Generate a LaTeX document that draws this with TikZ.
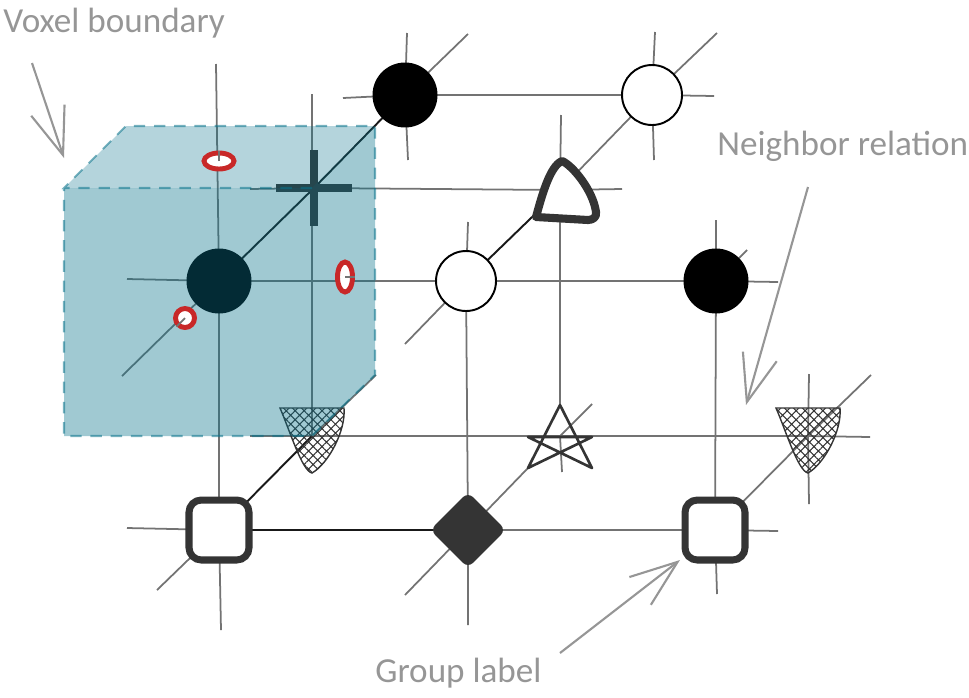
\documentclass[tikz,border=0pt]{standalone}
\usepackage{fontspec}
\setmainfont{Carlito}
\usetikzlibrary{arrows.meta,shapes,patterns.meta,backgrounds}
\definecolor{vxTeal}{RGB}{8,114,138}
\definecolor{vxInk}{RGB}{52,52,52}
\definecolor{vxNote}{RGB}{150,150,150}
\definecolor{vxRed}{RGB}{200,40,40}

\begin{document}
\begin{tikzpicture}[
  x=0.02cm, y=-0.02cm,
  sitedot/.style={circle, fill=black, minimum size=1.3cm, inner sep=0pt},
  siteopen/.style={circle, draw=black, line width=1.1pt, fill=white, minimum size=1.2cm, inner sep=0pt},
  sitesquare/.style={rectangle, draw=vxInk, line width=4pt, fill=white, rounded corners=7pt, minimum size=1.2cm, inner sep=0pt},
  sitediamond/.style={diamond, fill=vxInk, rounded corners=4pt, minimum size=1.52cm, inner sep=0pt},
  siteplus/.style={cross out, draw=vxInk, line width=4.5pt, minimum size=0.92cm, inner sep=0pt, rotate=45},
  siteblank/.style={circle, minimum size=1.2cm, inner sep=0pt},
  ringmark/.style={ellipse, draw=vxRed, line width=2.8pt, fill=white, inner sep=0pt},
  link/.style={draw=black!55, line width=1pt},
  linkdark/.style={draw=black!90, line width=1.1pt},
  notearr/.style={draw=vxNote, line width=1.2pt, -{Straight Barb[length=27pt, width=20pt]}},
  notetxt/.style={text=vxNote, font=\fontsize{20}{24}\selectfont, anchor=base west, inner sep=0pt},
  cubeedge/.style={draw=vxTeal, draw opacity=.55, line width=1.2pt, dash pattern=on 6.5pt off 5pt},
  hatchtri/.pic={
    \draw[draw=vxInk, line width=0.8pt, pattern={Hatch[angle=45, distance=3.6pt, line width=0.6pt]}, pattern color=vxInk]
      (-32,-28) -- (32,-28) .. controls (34,-5) and (16,28) .. (0,37)
      .. controls (-10,35) and (-22,-5) .. (-32,-28) -- cycle;
  },
  opentri/.pic={
    \draw[draw=vxInk, line width=4.6pt, fill=white, line join=round]
      (2,-29) .. controls (12,-25) and (33,0) .. (36,22) .. controls (37,27) and (33,30) .. (28,30)
      -- (-24,27) .. controls (-18,5) and (-10,-24) .. (2,-29) -- cycle;
  },
  openstar/.pic={
    \draw[draw=vxInk, line width=1.5pt, line join=round]
      (0,-31) -- (32,32) -- (-32,1) -- (32,1) -- (-32,32) -- cycle;
  },
]
\useasboundingbox (0,0) rectangle (969,697);
% sites, back row on top
\node[sitedot] (topBlack) at (405,95) {};
\node[siteopen] (topWhite) at (652,95) {};
% sites, back row in the middle
\node[siteplus] (backPlus) at (314,188) {};
\node[siteblank] (backTri) at (560,190) {};
\pic at (backTri) {opentri};
% sites, front row in the middle
\node[sitedot] (midDark) at (219,281) {};
\node[siteopen] (midWhite) at (466,281) {};
\node[sitedot] (midBlack) at (716,281) {};
% sites, back row below
\node[siteblank] (lowHatchA) at (312,436) {};
\pic at (lowHatchA) {hatchtri};
\node[siteblank] (lowStar) at (560,436) {};
\pic at (lowStar) {openstar};
\node[siteblank] (lowHatchB) at (808,436) {};
\pic at (lowHatchB) {hatchtri};
% sites, front row below
\node[sitesquare] (botSqA) at (219,530) {};
\node[sitediamond] (botDiam) at (468,530) {};
\node[sitesquare] (botSqB) at (715,530) {};
% free ends
\coordinate (topBlackW) at (343,98);
\coordinate (topBlackN) at (407,33);
\coordinate (topBlackS) at (408,160);
\coordinate (topBlackNE) at (468,34);
\coordinate (topWhiteE) at (714,96);
\coordinate (topWhiteN) at (655,32);
\coordinate (topWhiteS) at (654,160);
\coordinate (topWhiteNE) at (717,33);
\coordinate (backPlusW) at (250,189);
\coordinate (backPlusN) at (312,94);
\coordinate (backTriE) at (622,189);
\coordinate (backTriN) at (561,115);
\coordinate (midDarkW) at (127,279);
\coordinate (midDarkN) at (216,64);
\coordinate (midDarkSW) at (122,376);
\coordinate (midWhiteSW) at (405,344);
\coordinate (midWhiteN) at (468,222);
\coordinate (midBlackE) at (778,282);
\coordinate (midBlackN) at (716,220);
\coordinate (midBlackNE) at (747,250);
\coordinate (lowHatchAW) at (250,436);
\coordinate (lowHatchANE) at (376,375);
\coordinate (lowStarNE) at (592,404);
\coordinate (lowStarS) at (562,472);
\coordinate (lowStarSW) at (528,468);
\coordinate (lowHatchBE) at (870,437);
\coordinate (lowHatchBN) at (809,374);
\coordinate (lowHatchBS) at (809,504);
\coordinate (lowHatchBNE) at (871,375);
\coordinate (botSqAW) at (127,528);
\coordinate (botSqAS) at (221,630);
\coordinate (botSqASW) at (157,590);
\coordinate (botDiamS) at (468,625);
\coordinate (botDiamSW) at (405,595);
\coordinate (botSqBE) at (778,531);
\coordinate (botSqBS) at (717,594);
% lattice lines
\begin{scope}[on background layer]
\draw[link] (topBlackW) -- (topBlack.center) -- (topWhite.center) -- (topWhiteE);
\draw[link] (topBlackN) -- (topBlack.center) -- (topBlackS);
\draw[link] (topWhiteN) -- (topWhite.center) -- (topWhiteS);
\draw[link] (topBlackNE) -- (topBlack.center);
\draw[linkdark] (topBlack.center) -- (backPlus.center) -- (midDark.center);
\draw[link] (midDark.center) -- (midDarkSW);
\draw[link] (topWhiteNE) -- (topWhite.center) -- (backTri.center);
\draw[linkdark] (backTri.center) -- (midWhite.center);
\draw[link] (midWhite.center) -- (midWhiteSW);
\draw[link] (backPlusW) -- (backPlus.center) -- (backTri.center) -- (backTriE);
\draw[link] (backPlusN) -- (lowHatchA.center);
\draw[link] (backTriN) -- (backTri.center) -- (lowStar.north);
\draw[link] (lowStar.center) -- (lowStarS);
\draw[link] (midDarkW) -- (midDark.center) -- (midWhite.center) -- (midBlack.center) -- (midBlackE);
\draw[link] (midDarkN) -- (midDark.center) -- (botSqA.center) -- (botSqAS);
\draw[link] (midWhiteN) -- (midWhite.center) -- (botDiam.center) -- (botDiamS);
\draw[link] (midBlackN) -- (midBlack.center) -- (botSqB.center) -- (botSqBS);
\draw[link] (midBlackNE) -- (midBlack.center);
\draw[link] (lowHatchAW) -- (lowHatchA.center) -- (lowStar.center) -- (lowHatchB.center) -- (lowHatchBE);
\draw[link] (lowHatchBN) -- (lowHatchB.center) -- (lowHatchBS);
\draw[link] (lowHatchBNE) -- (lowHatchB.center) -- (botSqB.center);
\draw[link] (lowHatchANE) -- (lowHatchA.center);
\draw[linkdark] (lowHatchA.center) -- (botSqA.center);
\draw[link] (botSqA.center) -- (botSqASW);
\draw[link] (lowStarNE) -- (lowStar.center);
\draw[link] (lowStarSW) -- (botDiam.center) -- (botDiamSW);
\draw[link] (botSqAW) -- (botSqA.center);
\draw[linkdark] (botSqA.center) -- (botDiam.center);
\draw[link] (botDiam.center) -- (botSqB.center) -- (botSqBE);
\end{scope}
% voxel
\fill[vxTeal, fill opacity=.385] (64,188) -- (312,188) -- (375,126) -- (375,375) -- (312,436) -- (64,436) -- cycle;
\fill[vxTeal, fill opacity=.30] (64,188) -- (126,126) -- (375,126) -- (312,188) -- cycle;
\draw[cubeedge] (312,188) -- (64,188) -- (126,126) -- (375,126) -- (375,375) -- (312,436) -- (64,436) -- (64,188);
% marks on the voxel faces
\node[ringmark, minimum width=0.6cm, minimum height=0.32cm] (markTop) at (219,161) {};
\node[ringmark, minimum width=0.3cm, minimum height=0.6cm] (markSide) at (345,277) {};
\node[ringmark, minimum size=0.38cm] (markFront) at (185,318) {};
\draw[link] (markTop.center) -- (markTop.north);
\draw[link] (markSide.center) -- (markSide.east);
\draw[link] (markFront.center) -- (markFront.south west);
% notes
\node[notetxt] (voxelNote) at (3,32) {Voxel boundary};
\node[notetxt] (neighborNote) at (717,155) {Neighbor relation};
\node[notetxt] (groupNote) at (375,682) {Group label};
\coordinate (voxelTail) at (32,63);
\coordinate (voxelTip) at (64,158);
\coordinate (neighborTail) at (808,187);
\coordinate (neighborTip) at (746,405);
\coordinate (groupTail) at (560,653);
\coordinate (groupTip) at (680,560);
\draw[notearr] (voxelTail) -- (voxelTip);
\draw[notearr] (neighborTail) -- (neighborTip);
\draw[notearr] (groupTail) -- (groupTip);
\end{tikzpicture}
\end{document}
